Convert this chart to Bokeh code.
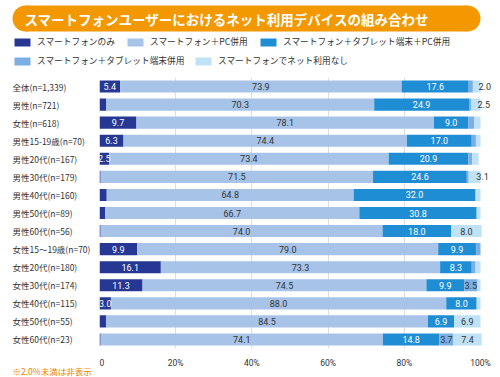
from bokeh.plotting import figure
from bokeh.models import ColumnDataSource, FactorRange, Range1d, Legend, LegendItem, Label, FixedTicker
from bokeh.layouts import column, row
from bokeh.embed import file_html
from bokeh.resources import INLINE
from bokeh.core.properties import value

FONT = "Noto Sans CJK JP"

title_text = "スマートフォンユーザーにおけるネット利用デバイスの組み合わせ"
note_text = "※2.0%未満は非表示"

categories = ["全体(n=1,339)", "男性(n=721)", "女性(n=618)", "男性15-19歳(n=70)",
              "男性20代(n=167)", "男性30代(n=179)", "男性40代(n=160)", "男性50代(n=89)",
              "男性60代(n=56)", "女性15～19歳(n=70)", "女性20代(n=180)", "女性30代(n=174)",
              "女性40代(n=115)", "女性50代(n=55)", "女性60代(n=23)"]

series_names = ["スマートフォンのみ", "スマートフォン＋PC併用", "スマートフォン＋タブレット端末＋PC併用",
                "スマートフォン＋タブレット端末併用", "スマートフォンでネット利用なし"]

smartphone_only = [5.4, 1.8, 9.7, 6.3, 2.5, 0.3, 1.9, 1.5, 0.3, 9.9, 16.1, 11.3, 3.0, 1.7, 0.3]
plus_pc         = [73.9, 70.3, 78.1, 74.4, 73.4, 71.5, 64.8, 66.7, 74.0, 79.0, 73.3, 74.5, 88.0, 84.5, 74.1]
tablet_pc       = [17.6, 24.9, 9.0, 17.0, 20.9, 24.6, 32.0, 30.8, 18.0, 9.9, 8.3, 9.9, 8.0, 6.9, 14.8]
tablet_only     = [1.1, 0.5, 1.6, 1.1, 1.0, 0.5, 0.0, 0.0, 0.0, 1.2, 1.0, 3.5, 0.0, 0.0, 3.7]
no_use          = [2.0, 2.5, 1.6, 1.2, 1.7, 3.1, 1.3, 1.0, 8.0, 0.0, 1.3, 0.8, 1.0, 6.9, 7.4]

x_ticks = [0, 20, 40, 60, 80, 100]
x_tick_labels = ["0", "20%", "40%", "60%", "80%", "100%"]

colors = ["#263894", "#A7C3E8", "#1F8DD3", "#7BAEE2", "#BFE2F6"]
label_colors = ["white", "#333333", "white", "#333333", "#333333"]
series = [smartphone_only, plus_pc, tablet_pc, tablet_only, no_use]
keys = ["s0", "s1", "s2", "s3", "s4"]

# ---------------- header (title banner + legend), pixel units ----------------
HH = 76
header = figure(width=500, height=HH, x_range=Range1d(0, 500), y_range=Range1d(0, HH),
                x_axis_location=None, y_axis_location=None, min_border=0,
                output_backend="svg", toolbar_location=None)
header.grid.visible = False
header.outline_line_color = None

ORANGE = "#F39800"
# pill shaped banner: 12..480 px, 5..31 px from top
header.quad(left=[25], right=[467], bottom=[HH - 31], top=[HH - 5], fill_color=ORANGE, line_color=None)
header.circle(x=[25, 467], y=[HH - 18, HH - 18], radius=13, fill_color=ORANGE, line_color=None)
header.add_layout(Label(x=24, y=HH - 18, text=title_text, text_font=FONT, text_font_size="13.5px",
                        text_font_style="bold", text_color="white", text_baseline="middle"))

dummies = [header.rect(x=[-1000], y=[-1000], width=1, height=1, fill_color=c, line_color=None)
           for c in colors]
positions = [(12, 28), (125, 28), (258, 28), (12, 9), (193, 9)]
for name, r, pos in zip(series_names, dummies, positions):
    lg = Legend(items=[LegendItem(label=name, renderers=[r])], location=pos,
                orientation="horizontal", padding=0, margin=0, spacing=0,
                border_line_color=None, background_fill_alpha=0,
                glyph_width=20, glyph_height=10, label_height=10, label_standoff=5,
                label_text_font=FONT, label_text_font_size="8.7px", label_text_color="#333333")
    header.add_layout(lg)

# ---------------- main chart ----------------
RH = 377 - HH
FRAME_L, FRAME_R100, CANVAS_R = 99, 480, 492
x_end = 100 * (CANVAS_R - FRAME_L) / (FRAME_R100 - FRAME_L)
yr = FactorRange(*list(reversed(categories)))
main = figure(width=500 - FRAME_L, height=RH, y_range=yr, x_range=Range1d(0, x_end),
              y_axis_location=None, min_border_left=0, min_border_right=500 - CANVAS_R,
              min_border_top=1, min_border_bottom=29,
              output_backend="svg", toolbar_location=None)
main.outline_line_color = None
main.ygrid.visible = False
main.xgrid.ticker = FixedTicker(ticks=x_ticks[:-1])
main.xgrid.grid_line_color = "#DDDDDD"

data = dict(cat=categories)
for k, s in zip(keys, series):
    data[k] = s
src = ColumnDataSource(data)
main.hbar_stack(keys, y="cat", height=0.67, color=colors, line_color=None, source=src)

lx, ly, lt, lc, lo = [], [], [], [], []
for i, cat in enumerate(categories):
    start = 0.0
    for s, vals in enumerate(series):
        v = vals[i]
        if v >= 2.0:
            lx.append(start + v / 2)
            ly.append(cat)
            lt.append(f"{v:.1f}")
            lc.append(label_colors[s])
            lo.append(8 if (s == len(series) - 1 and v < 3.3) else 0)
        start += v
lsrc = ColumnDataSource(dict(x=lx, y=ly, t=lt, c=lc, o=lo))
main.text(x="x", y="y", text="t", text_color="c", x_offset="o", source=lsrc, text_align="center",
          text_baseline="middle", text_font=value("Roboto"), text_font_size="9px")

ax = main.xaxis[0]
ax.ticker = FixedTicker(ticks=x_ticks)
ax.major_label_overrides = {t: l for t, l in zip(x_ticks, x_tick_labels)}
ax.axis_line_color = None
ax.major_tick_line_color = None
ax.minor_tick_line_color = None
ax.major_label_standoff = 3
ax.major_label_text_font = "Roboto"
ax.major_label_text_font_size = "8.5px"
ax.major_label_text_color = "#333333"

# ---------------- category labels (left aligned) ----------------
NOTE_H = 14
labfig = figure(width=FRAME_L, height=RH - NOTE_H, y_range=yr, x_range=Range1d(0, FRAME_L),
                x_axis_location=None, y_axis_location=None,
                min_border_left=0, min_border_right=0, min_border_top=1,
                min_border_bottom=29 - NOTE_H,
                output_backend="svg", toolbar_location=None)
labfig.grid.visible = False
labfig.outline_line_color = None
csrc = ColumnDataSource(dict(y=categories, x=[12] * len(categories)))
labfig.text(x="x", y="y", text="y", source=csrc, text_align="left", text_baseline="middle",
            text_font=value(FONT), text_font_size="8.5px", text_color="#333333")

notefig = figure(width=FRAME_L, height=NOTE_H, x_range=Range1d(0, FRAME_L), y_range=Range1d(0, NOTE_H),
                 x_axis_location=None, y_axis_location=None, min_border=0,
                 output_backend="svg", toolbar_location=None)
notefig.grid.visible = False
notefig.outline_line_color = None
notefig.add_layout(Label(x=12, y=NOTE_H / 2, text=note_text, text_font=FONT, text_font_size="8.5px",
                         text_color="#F08300", text_baseline="middle"))

layout = column(header, row(column(labfig, notefig, spacing=0), main, spacing=0), spacing=0)
open("out.html", "w").write(file_html(layout, INLINE))
